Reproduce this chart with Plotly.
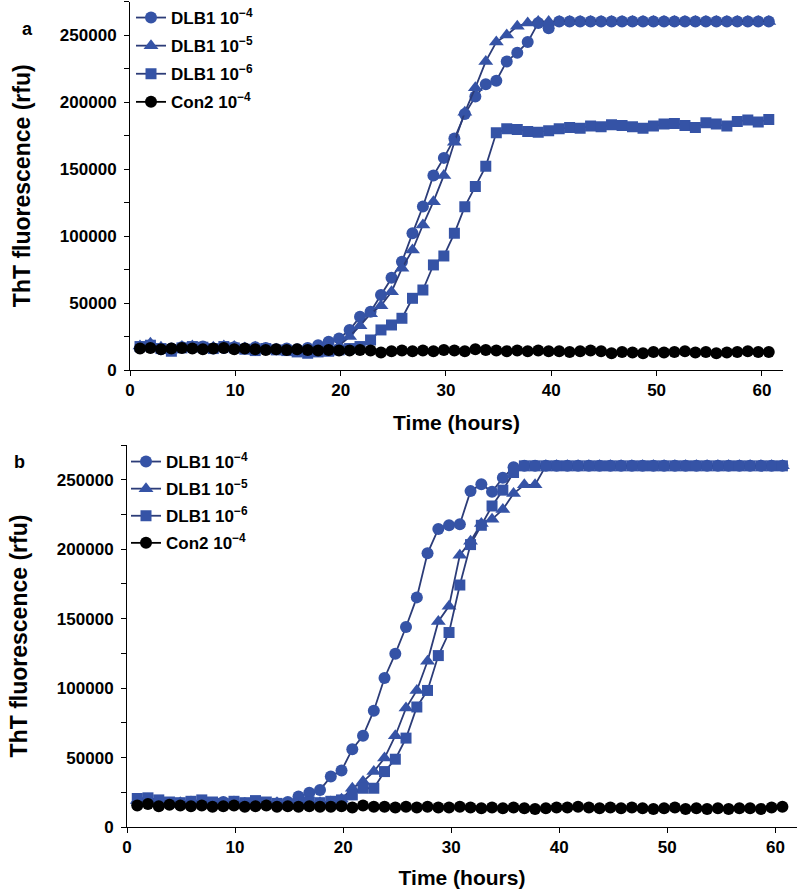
import plotly.graph_objects as go

# ---------------- data ----------------
TIME = [0.95, 1.94, 2.94, 3.93, 4.93, 5.92, 6.92, 7.91, 8.91, 9.9,
        10.9, 11.89, 12.89, 13.88, 14.88, 15.87, 16.87, 17.86, 18.86, 19.85,
        20.85, 21.84, 22.84, 23.83, 24.83, 25.82, 26.82, 27.81, 28.81, 29.8,
        30.8, 31.79, 32.79, 33.78, 34.78, 35.77, 36.77, 37.76, 38.76, 39.75,
        40.75, 41.74, 42.74, 43.73, 44.73, 45.72, 46.72, 47.71, 48.71, 49.7,
        50.7, 51.69, 52.69, 53.68, 54.68, 55.67, 56.67, 57.66, 58.66, 59.65,
        60.65]

SERIES_NAMES = ["DLB1 10<sup>−4</sup>", "DLB1 10<sup>−5</sup>",
                "DLB1 10<sup>−6</sup>", "Con2 10<sup>−4</sup>"]

# panel a
A_DLB1_4 = [16500, 17500, 15500, 16000, 17000, 16500, 17500, 16000, 16500, 17000,
            16000, 17000, 16500, 15500, 16000, 15500, 16500, 18500, 21100, 23600,
            29800, 39800, 43500, 56000, 68900, 80800, 102000, 122000, 145200, 158300,
            172700, 191000, 204100, 213300, 215900, 230300, 236800, 244700, 259000, 255100,
            260000, 260000, 260000, 260000, 260000, 260000, 260000, 260000, 260000, 260000,
            260000, 260000, 260000, 260000, 260000, 260000, 260000, 260000, 260000, 260000,
            260000]
A_DLB1_5 = [18000, 20000, 17000, 15500, 17500, 18000, 16500, 17000, 18000, 17500,
            16500, 17000, 16000, 15500, 15000, 14500, 13000, 14000, 16000, 18000,
            25000, 33000, 42000, 48000, 58400, 75900, 89500, 108200, 125600, 145200,
            170000, 192300, 210700, 230300, 244700, 250000, 256500, 259000, 260000, 260000,
            260000, 260000, 260000, 260000, 260000, 260000, 260000, 260000, 260000, 260000,
            260000, 260000, 260000, 260000, 260000, 260000, 260000, 260000, 260000, 260000,
            260000]
A_DLB1_6 = [17500, 18500, 16000, 14000, 16500, 17500, 17000, 16000, 17500, 16500,
            15500, 14500, 16000, 15000, 14500, 13500, 12500, 13500, 14000, 15000,
            16000, 17500, 22400, 29900, 33600, 38600, 53500, 59700, 78400, 85100,
            102000, 121900, 137000, 152000, 177000, 180000, 179500, 178000, 177500, 178500,
            180000, 181000, 180500, 182000, 181500, 183000, 182500, 181500, 180500, 182000,
            183500, 184000, 182500, 181000, 184500, 183500, 182000, 185500, 186500, 185000,
            187000]
A_CON2_4 = [16000, 16500, 15500, 16000, 16500, 16000, 15500, 16000, 16500, 15500,
            16000, 15500, 15000, 15500, 15000, 15500, 15000, 14500, 15000, 14500,
            14500, 15000, 14500, 13000, 14000, 14500, 14000, 14500, 14000, 15000,
            14500, 14000, 15500, 15000, 14500, 14000, 14500, 14000, 14500, 14000,
            14000, 13500, 14000, 14500, 14000, 12500, 13500, 13000, 12500, 13500,
            13000, 13500, 14000, 13000, 13500, 12500, 13000, 13500, 14000, 13500,
            13500]

# panel b
B_DLB1_4 = [17000, 18500, 17500, 16500, 17000, 17500, 16500, 17000, 18000, 17500,
            17000, 17500, 16500, 17000, 18000, 21900, 24700, 26700, 36300, 40600,
            56000, 65700, 83700, 107300, 124800, 144000, 165300, 197000, 214600, 217200,
            218000, 241800, 246800, 241300, 251400, 259000, 260000, 260000, 260000, 260000,
            260000, 260000, 260000, 260000, 260000, 260000, 260000, 260000, 260000, 260000,
            260000, 260000, 260000, 260000, 260000, 260000, 260000, 260000, 260000, 260000,
            260000]
B_DLB1_5 = [19000, 20000, 18000, 17000, 17500, 18000, 17000, 16500, 17500, 18000,
            17000, 16500, 17000, 17500, 17000, 16500, 17000, 17500, 18000, 20000,
            27900, 32700, 39900, 49600, 65700, 85600, 98300, 119300, 148000, 159000,
            195700, 205800, 218500, 221500, 228600, 240000, 246300, 246300, 260000, 260000,
            260000, 260000, 260000, 260000, 260000, 260000, 260000, 260000, 260000, 260000,
            260000, 260000, 260000, 260000, 260000, 260000, 260000, 260000, 260000, 260000,
            260000]
B_DLB1_6 = [20500, 21000, 19500, 18000, 17500, 18500, 19500, 18000, 17000, 18500,
            17500, 19000, 18000, 17000, 16500, 17500, 18000, 17500, 18500, 19500,
            23100, 27900, 27900, 39900, 48800, 64000, 86400, 98300, 123400, 140000,
            174200, 203300, 217200, 231100, 242500, 255200, 260000, 260000, 260000, 260000,
            260000, 260000, 260000, 260000, 260000, 260000, 260000, 260000, 260000, 260000,
            260000, 260000, 260000, 260000, 260000, 260000, 260000, 260000, 260000, 260000,
            260000]
B_CON2_4 = [15500, 16500, 15000, 16000, 15500, 15000, 15500, 14500, 15000, 15500,
            14500, 15000, 15500, 14500, 15000, 14500, 15000, 14500, 14500, 15000,
            14000, 15500, 14500, 14500, 14000, 14500, 14000, 14500, 14000, 14000,
            14500, 14000, 13500, 14000, 13500, 14000, 13500, 13000, 13500, 14000,
            14000, 14500, 14000, 13500, 14000, 13500, 14000, 13500, 13000, 13500,
            14000, 13000, 13500, 13000, 13500, 13000, 13500, 13500, 13000, 14000,
            14500]

X_TITLE = "Time (hours)"
Y_TITLE = "ThT fluorescence (rfu)"
PANEL_LABELS = ["a", "b"]

# ---------------- style ----------------
W, H = 800, 891
FONT = "Liberation Sans, Arial, sans-serif"
BLUE = "#3553A6"
BLUE_LINE = "#2C3C78"
BLACK = "#000000"
SYMBOLS = ["circle", "triangle-up", "square", "circle"]
SIZES = [12, 13, 11, 12]
MCOLORS = [BLUE, BLUE, BLUE, BLACK]
LCOLORS = [BLUE_LINE, BLUE_LINE, BLUE_LINE, BLACK]

fig = go.Figure()

panels = [
    ([A_DLB1_4, A_DLB1_5, A_DLB1_6, A_CON2_4], "x", "y", "legend", "a"),
    ([B_DLB1_4, B_DLB1_5, B_DLB1_6, B_CON2_4], "x2", "y2", "legend2", "b"),
]
for series, xa, ya, lg, tag in panels:
    for i, vals in enumerate(series):
        fig.add_trace(go.Scatter(
            x=TIME, y=vals, name=SERIES_NAMES[i], mode="lines+markers",
            xaxis=xa, yaxis=ya, legend=lg, legendgroup=f"{tag}{i}",
            line=dict(color=LCOLORS[i], width=1.8),
            marker=dict(symbol=SYMBOLS[i], size=SIZES[i], color=MCOLORS[i],
                        line=dict(width=0)),
        ))


def px_x(p):
    return p / W


def px_y(p):
    return 1 - p / H


axis_common = dict(
    showline=True, linecolor="black", linewidth=1, showgrid=False, zeroline=False,
    ticks="outside", ticklen=5, tickcolor="black", tickwidth=1,
    tickfont=dict(family=FONT, size=17, color="black", weight="bold"),
    automargin=False,
)
xtitle_font = dict(family=FONT, size=21, color="black", weight="bold")
xcommon = dict(axis_common, range=[0, 62], tick0=0, dtick=10)
ycommon = dict(axis_common, range=[0, 275000], tick0=0, dtick=50000, tickformat="d",
               ticklabelstandoff=4,
               minor=dict(dtick=25000, ticks="outside", ticklen=5, tickcolor="black", tickwidth=1),
               title=dict(text=Y_TITLE, font=dict(family=FONT, size=23, color="black", weight="bold"),
                          standoff=22))

fig.update_layout(
    width=W, height=H,
    margin=dict(l=0, r=0, t=0, b=0),
    paper_bgcolor="white", plot_bgcolor="white",
    font=dict(family=FONT, color="black"),
    xaxis=dict(xcommon, domain=[px_x(130), px_x(783)], anchor="y",
               title=dict(text=X_TITLE, font=xtitle_font, standoff=15)),
    yaxis=dict(ycommon, domain=[px_y(370), px_y(1.5)], anchor="x"),
    xaxis2=dict(xcommon, domain=[px_x(127), px_x(797)], anchor="y2",
                title=dict(text=X_TITLE, font=xtitle_font, standoff=13)),
    yaxis2=dict(ycommon, domain=[px_y(827), px_y(445)], anchor="x2"),
    legend=dict(x=px_x(131), y=1.0, xanchor="left", yanchor="top",
                bgcolor="rgba(0,0,0,0)", borderwidth=0, tracegroupgap=3,
                font=dict(family=FONT, size=17, color="black", weight="bold")),
    legend2=dict(x=px_x(126), y=px_y(444), xanchor="left", yanchor="top",
                 bgcolor="rgba(0,0,0,0)", borderwidth=0, tracegroupgap=2,
                 font=dict(family=FONT, size=17, color="black", weight="bold")),
    showlegend=True,
    annotations=[
        dict(text=PANEL_LABELS[0], x=px_x(20), y=px_y(17), xref="paper", yref="paper",
             showarrow=False, font=dict(family=FONT, size=18, color="black", weight="bold")),
        dict(text=PANEL_LABELS[1], x=px_x(12), y=px_y(462), xref="paper", yref="paper",
             showarrow=False, font=dict(family=FONT, size=18, color="black", weight="bold")),
    ],
)

fig.write_html("out.html")
